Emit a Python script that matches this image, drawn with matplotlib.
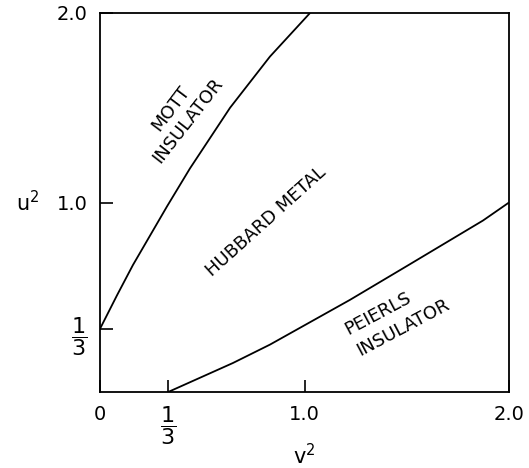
import matplotlib
matplotlib.use("Agg")
import matplotlib.pyplot as plt

# Mott insulator / Hubbard metal boundary (v^2, u^2)
mott_v2 = [0.0, 0.083, 0.161, 0.328, 0.440, 0.636, 0.831, 1.027]
mott_u2 = [1/3, 0.510, 0.670, 0.980, 1.180, 1.500, 1.770, 2.0]

# Peierls insulator / Hubbard metal boundary
peierls_v2 = [1/3, 0.650, 0.831, 1.222, 1.501, 1.873, 2.0]
peierls_u2 = [0.0, 0.153, 0.250, 0.486, 0.665, 0.905, 1.0]

xticks = [0, 1/3, 1.0, 2.0]
xticklabels = ["0", r"$\dfrac{1}{3}$", "1.0", "2.0"]
yticks = [1/3, 1.0, 2.0]
yticklabels = [r"$\dfrac{1}{3}$", "1.0", "2.0"]

plt.rcParams['font.family'] = ['DejaVu Sans']
plt.rcParams['mathtext.fontset'] = 'dejavusans'

fig = plt.figure(figsize=(5.29, 4.68), dpi=100)
ax = fig.add_axes([100/529, (468-392)/468, 409/529, 379/468])

ax.plot(mott_v2, mott_u2, color='black', lw=1.3, solid_capstyle='butt', solid_joinstyle='round')
ax.plot(peierls_v2, peierls_u2, color='black', lw=1.3, solid_capstyle='butt', solid_joinstyle='round')

ax.set_xlim(0, 2.0)
ax.set_ylim(0, 2.0)

ax.set_xticks(xticks)
ax.set_yticks(yticks)
ax.tick_params(direction='in', length=9, width=1.2, pad=9, colors='black')
ax.set_xticklabels(xticklabels)
ax.set_yticklabels(yticklabels)
for t in ax.get_xticklabels() + ax.get_yticklabels():
    t.set_fontsize(16 if "frac" in t.get_text() else 14)

for s in ax.spines.values():
    s.set_linewidth(1.3)
    s.set_color('black')

ax.set_xlabel(r"$\mathregular{v^2}$", fontsize=15, va='center')
ax.set_ylabel(r"$\mathregular{u^2}$", fontsize=15, rotation=0, ha='center', va='center')
ax.xaxis.set_label_coords(0.5, -0.168)
ax.yaxis.set_label_coords(-0.176, 0.5)

lab = dict(fontsize=13, ha='center', va='center', rotation_mode='anchor', color='black')
ax.text(0.347, 1.499, "MOTT", rotation=53, **lab)
ax.text(0.430, 1.435, "INSULATOR", rotation=52, **lab)
ax.text(0.812, 0.902, "HUBBARD METAL", rotation=42, **lab)
ax.text(1.359, 0.412, "PEIERLS", rotation=28, **lab)
ax.text(1.482, 0.338, "INSULATOR", rotation=28, **lab)

fig.savefig("out.png", dpi=100)
